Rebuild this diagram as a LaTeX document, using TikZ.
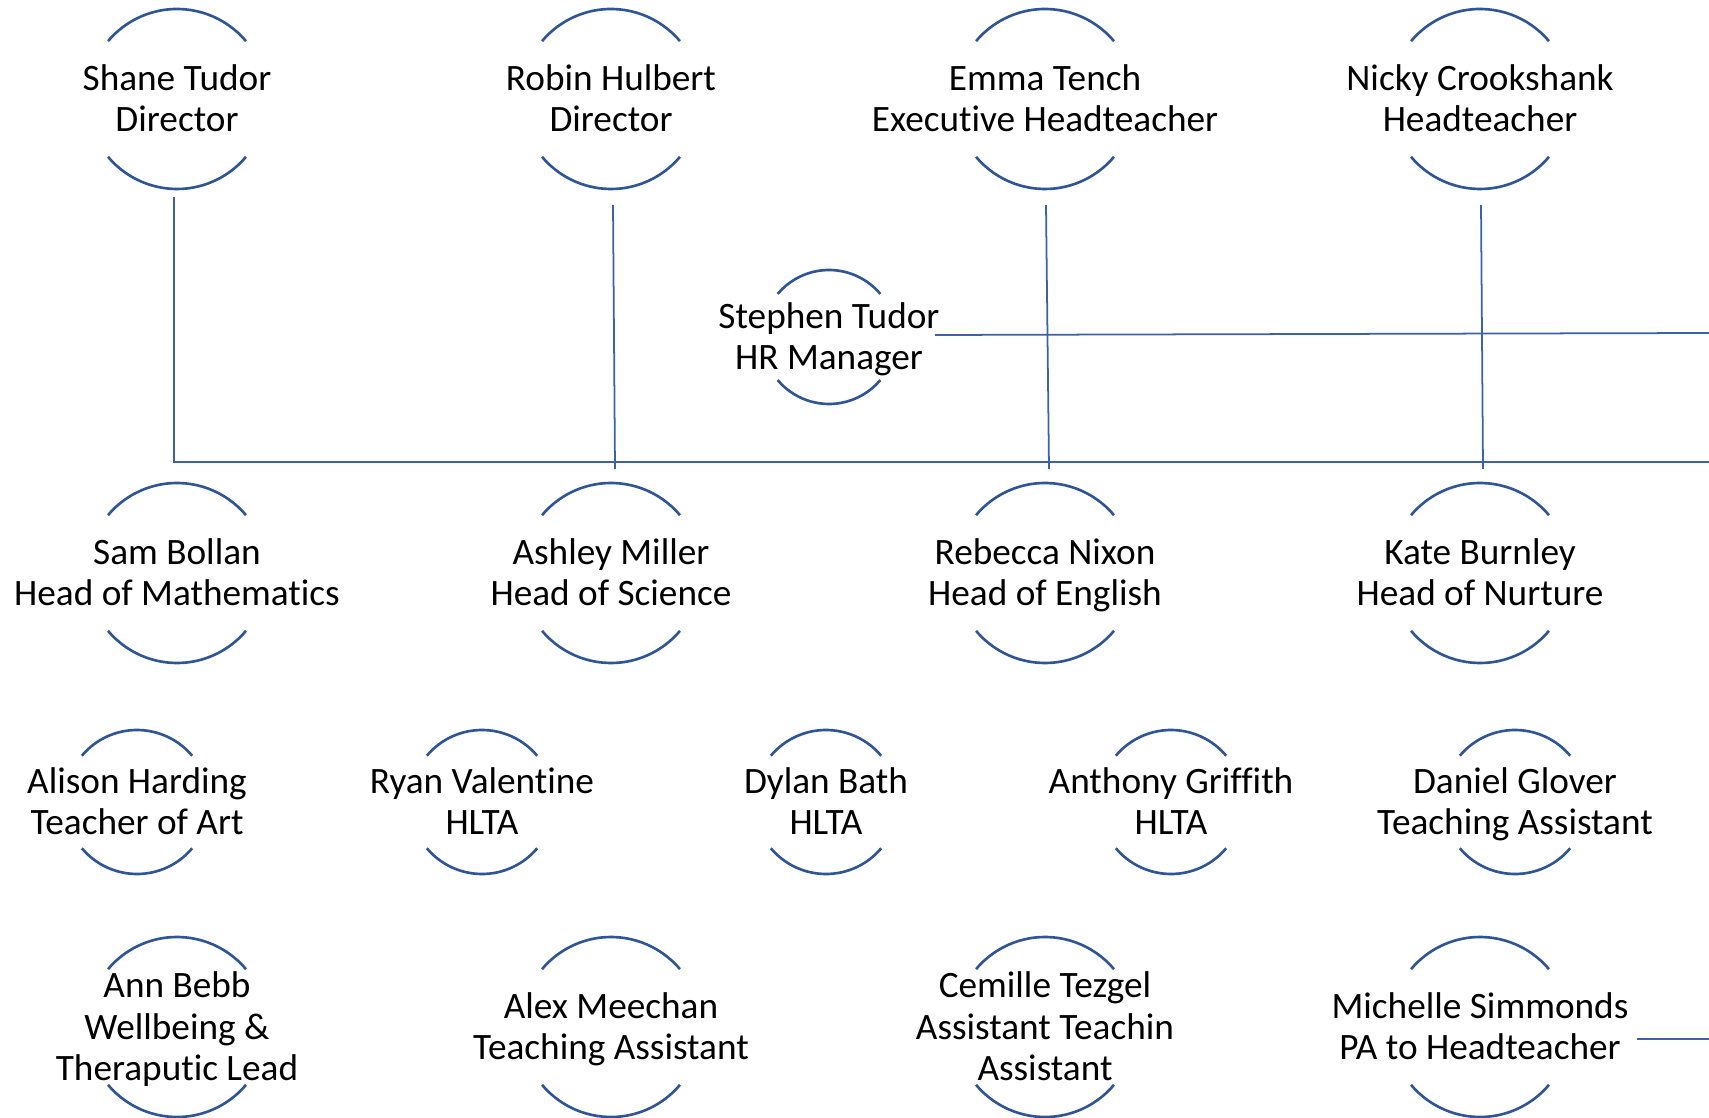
\documentclass[tikz,border=0pt]{standalone}
\usepackage{fontspec}
\setmainfont{Carlito}[Ligatures=NoCommon]
\usetikzlibrary{calc}
\definecolor{ringblue}{HTML}{2F5597}
\definecolor{linkblue}{HTML}{3B62A8}
% text sits 0.055 below the ring centre
\def\ringarcs(#1)(#2){\draw[ring] ($(#1)+(0,0.055)+(40:#2)$) arc (40:140:#2); \draw[ring] ($(#1)+(0,0.055)+(220:#2)$) arc (220:320:#2);}
\tikzset{
	ring/.style={line width=0.75pt, color=ringblue},
	link/.style={line width=0.5pt, color=linkblue},
	person/.style={align=center, inner sep=1pt, yshift=-0.055cm, font=\fontsize{10.6}{11.8}\selectfont,
		execute at begin node=\strut, execute at end node=\strut}
}
\begin{document}
\begin{tikzpicture}
			%%%%% START %%%%%
			\useasboundingbox (0, 0) rectangle (17.09, -11.18);
			
			% board
			\node[person] (shane) at (1.77, -0.99) {Shane Tudor\\Director};
			\ringarcs(shane)(0.9)
			\node[person] (robin) at (6.11, -0.99) {Robin Hulbert\\Director};
			\ringarcs(robin)(0.9)
			\node[person] (emma) at (10.45, -0.99) {Emma Tench\\Executive Headteacher};
			\ringarcs(emma)(0.9)
			\node[person] (nicky) at (14.80, -0.99) {Nicky Crookshank\\Headteacher};
			\ringarcs(nicky)(0.9)
			
			\node[person] (stephen) at (8.29, -3.37) {Stephen Tudor\\HR Manager};
			\ringarcs(stephen)(0.67)
			
			% heads
			\node[person] (sam) at (1.77, -5.73) {Sam Bollan\\Head of Mathematics};
			\ringarcs(sam)(0.9)
			\node[person] (ashley) at (6.11, -5.73) {Ashley Miller\\Head of Science};
			\ringarcs(ashley)(0.9)
			\node[person] (rebecca) at (10.45, -5.73) {Rebecca Nixon\\Head of English};
			\ringarcs(rebecca)(0.9)
			\node[person] (kate) at (14.80, -5.73) {Kate Burnley\\Head of Nurture};
			\ringarcs(kate)(0.9)
			
			% staff
			\node[person] (alison) at (1.37, -8.02) {Alison Harding\\Teacher of Art};
			\ringarcs(alison)(0.72)
			\node[person] (ryan) at (4.82, -8.02) {Ryan Valentine\\HLTA};
			\ringarcs(ryan)(0.72)
			\node[person] (dylan) at (8.26, -8.02) {Dylan Bath\\HLTA};
			\ringarcs(dylan)(0.72)
			\node[person] (anthony) at (11.71, -8.02) {Anthony Griffith\\HLTA};
			\ringarcs(anthony)(0.72)
			\node[person] (daniel) at (15.15, -8.02) {Daniel Glover\\Teaching Assistant};
			\ringarcs(daniel)(0.72)
			
			\node[person] (ann) at (1.77, -10.27) {Ann Bebb\\Wellbeing \&\\Theraputic Lead};
			\ringarcs(ann)(0.9)
			\node[person] (alex) at (6.11, -10.27) {Alex Meechan\\Teaching Assistant};
			\ringarcs(alex)(0.9)
			\node[person] (cemille) at (10.45, -10.27) {Cemille Tezgel\\Assistant Teachin\\Assistant};
			\ringarcs(cemille)(0.9)
			\node[person] (michelle) at (14.80, -10.27) {Michelle Simmonds\\PA to Headteacher};
			\ringarcs(michelle)(0.9)
			
			% lines
			\coordinate (busend) at (17.09, -4.62);
			\coordinate (hrend) at (17.09, -3.33);
			\coordinate (paend) at (17.09, -10.39);
			
			\draw[link] ([xshift=-0.03cm, yshift=-0.925cm]shane.center) |- (busend);
			\draw[link] ([xshift=0.02cm, yshift=-1.005cm]robin.center) -- ([xshift=0.04cm]robin.center |- 0, -4.69);
			\draw[link] ([xshift=0.01cm, yshift=-1.005cm]emma.center) -- ([xshift=0.04cm]emma.center |- 0, -4.69);
			\draw[link] ([xshift=0.01cm, yshift=-1.005cm]nicky.center) -- ([xshift=0.03cm]nicky.center |- 0, -4.69);
			\draw[link] ([xshift=1.06cm, yshift=0.075cm]stephen.center) -- (hrend);
			\draw[link] ([xshift=1.57cm, yshift=-0.065cm]michelle.center) -- (paend);
			
			%%%%% END %%%%%
\end{tikzpicture}
\end{document}
